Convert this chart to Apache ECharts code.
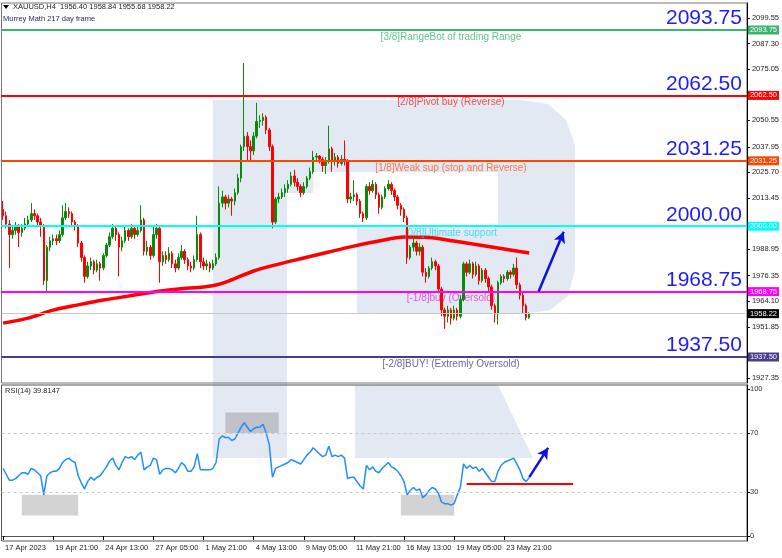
<!DOCTYPE html>
<html>
<head>
<meta charset="utf-8">
<script src="https://cdn.jsdelivr.net/npm/echarts@6/dist/echarts.min.js"></script>
<style>
html,body{margin:0;padding:0;background:#fff;}
#chart{width:782px;height:558px;}
</style>
</head>
<body>
<div id="chart"></div>
<script>
// XAUUSD H4 bars, 17 Apr – 25 May 2023
const tickLabels = ['17 Apr 2023','19 Apr 21:00','24 Apr 13:00','27 Apr 05:00','1 May 21:00','4 May 13:00',
  '9 May 05:00','11 May 21:00','16 May 13:00','19 May 05:00','23 May 21:00'];
const barsPerTick = 16;
const slotCount = 238;

const opens = [2008,2005,2001,1996,1998,2000,1997,1999,2001,2003,
 2006,2005,2002,2000,1974,1990,1993,1994,1993,1996,
 2004,2007,2006,2002,2000,1992,1985,1976,1981,1983,
 1979,1982,1980,1986,1991,1995,1999,1996,1990,1993,
 1998,1995,1999,1996,1998,2003,1988,1990,1986,1996,
 1999,1983,1986,1984,1987,1982,1980,1985,1988,1984,
 1981,1980,1984,1996,1983,1981,1982,1980,1982,1985,
 2011,2014,2011,2013,2012,2016,2023,2038,2043,2038,
 2036,2043,2050,2050.5,2052,2046,2038,2002,2013,2014,
 2016,2018,2020,2024,2021,2019,2016,2019,2023,2026,
 2033,2033.5,2032,2029,2031,2037,2031,2033,2030,2032,
 2031,2013,2014,2015,2012,2006,2004,2019,2017,2020,
 2015,2009,2014,2018,2020,2017,2014,2010,2008,2004,
 1985,1990,1992,1988,1990,1978,1976,1980,1983,1981,
 1970,1960,1957,1960,1956,1960,1957,1965,1982,1978,
 1982,1977,1981,1974,1979,1975,1971,1962,1958,1973,
 1976,1975,1978,1977,1980,1972,1967,1962,1956.40];

const closes = [2005,2001,1996,1998,2000,1997,1999,2001,2003,2006,
 2005,2002,2000,1974,1990,1993,1994,1993,1996,2004,
 2007,2006,2002,2000,1992,1985,1976,1981,1983,1979,
 1982,1980,1986,1991,1995,1999,1996,1990,1993,1998,
 1995,1999,1996,1998,2003,1988,1990,1986,1996,1999,
 1983,1986,1984,1987,1982,1980,1985,1988,1984,1981,
 1980,1984,1996,1983,1981,1982,1980,1982,1985,2011,
 2014,2011,2013,2012,2016,2023,2038,2043,2038,2036,
 2043,2050,2050.5,2052,2046,2038,2002,2013,2014,2016,
 2018,2020,2024,2021,2019,2016,2019,2023,2026,2033,
 2033.5,2032,2029,2031,2037,2031,2033,2030,2032,2031,
 2013,2014,2015,2012,2006,2004,2019,2017,2020,2015,
 2009,2014,2018,2020,2017,2014,2010,2008,2004,1985,
 1990,1992,1988,1990,1978,1976,1980,1983,1981,1970,
 1960,1957,1960,1956,1960,1957,1965,1982,1978,1982,
 1977,1981,1974,1979,1975,1971,1962,1958,1973,1976,
 1975,1978,1977,1980,1972,1967,1962,1956.40,1958.22];

const highs = [2012,2007,2003,2000,2002,2001,2001,2004,2005,2011,
 2008,2006,2004,2001,1991,1995,1996,1996,1998,2010,
 2011,2009,2007,2003,2001,1993,1986,1983,1985,1984,
 1984,1983,1987,1992,1997,2001,2000,1997,1995,2000,
 1999,2001,2000,2000,2010,2004,1993,1991,2000,2001,
 2000,1988,1988,1990,1988,1984,1987,1991,1989,1985,
 1983,1986,2005,1997,1985,1984,1983,1984,1987,2019,
 2017,2015,2015,2014,2018,2025,2039,2078,2045,2041,
 2045,2059,2053,2054,2053,2047,2039,2014,2016,2018,
 2020,2022,2026,2027,2023,2020,2021,2024,2028,2036,
 2035,2034,2033,2033,2048,2038,2035,2034,2034,2041,
 2032,2016,2022,2016,2013,2007,2020,2021,2022,2021,
 2016,2015,2019,2022,2021,2018,2015,2011,2009,2005,
 1991,1994,1993,1992,1991,1980,1981,1985,1984,1982,
 1971,1961,1962,1961,1962,1961,1967,1983,1983,1984,
 1983,1983,1982,1980,1980,1976,1972,1963,1974,1977,
 1977,1979,1979,1982,1985,1973,1968,1963,1958.84];

const lows = [2003,1999,1980,1994,1996,1990,1995,1998,2000,2002,
 2003,2000,1995,1972,1969,1988,1991,1991,1992,1995,
 2003,2004,2000,1998,1990,1983,1973,1975,1979,1977,
 1978,1974,1979,1985,1990,1994,1993,1976,1988,1992,
 1993,1994,1994,1995,1997,1986,1986,1984,1985,1994,
 1973,1981,1982,1983,1980,1978,1979,1984,1982,1979,
 1978,1979,1983,1980,1979,1979,1978,1979,1981,1984,
 2009,2008,2009,2005,2010,2015,2021,2036,2031,2031,
 2034,2042,2047,2048,2044,2036,1999,2001,2011,2013,
 2014,2016,2019,2019,2017,2014,2015,2018,2022,2025,
 2031,2030,2026,2025,2030,2026,2029,2028,2029,2029,
 2011,2011,2012,2010,2004,2002,2003,2015,2016,2013,
 2006,2008,2013,2017,2015,2012,2008,2005,2002,1982,
 1984,1988,1986,1986,1976,1973,1975,1979,1979,1968,
 1957,1951,1954,1953,1955,1955,1956,1964,1976,1977,
 1975,1976,1972,1973,1973,1969,1960,1954,1953,1972,
 1973,1974,1975,1976,1970,1965,1958,1955,1955.68];

// RSI(14)
const rsi = [46,42,38,38,39,41,43,43,42,46,
 45,43,41,28,41,43,44,44,46,50,
 52,53,51,50,41,36,32,37,40,38,
 40,41,44,47,51,53,48,45,50,54,
 53,54,52,55,57,45,47,48,53,52,
 42,45,46,46,45,43,46,50,48,44,
 44,47,56,45,45,45,45,46,50,66,
 68,67,67,65,66,70,74,77,74,71,
 73,74,74,76,70,62,40,46,47,48,
 49,50,52,51,50,49,52,55,57,60,
 58,56,54,55,61,54,55,54,55,53,
 39,40,40,37,34,32,48,45,47,44,
 43,46,48,50,47,46,44,41,37,28,
 31,33,31,32,26,28,31,33,32,29,
 23,22,22,21,22,28,33,49,46,48,
 46,47,44,46,43,40,37,37,44,48,
 50,51,52,53,49,45,39,37,39.8147];

// 217-period moving average, sampled at bar indices
const maIdx = [0,8,16,24,32,40,48,56,64,68,72,80,88,96,104,112,120,128,136,144,152,160,168];
const maVal = [1953.7,1956.1,1959.9,1962.4,1964.7,1966.6,1968.6,1970.0,1971.0,1971.9,1973.8,1978.6,
  1981.9,1984.8,1987.7,1990.5,1992.9,1994.8,1994.6,1992.9,1991.0,1989.1,1987.2];

// Murrey Math levels
const levels = [2093.75, 2062.50, 2031.25, 2000.00, 1968.75, 1937.50];
const levelNames = ['[3/8]RangeBot of trading Range','[2/8]Pivot buy (Reverse)','[1/8]Weak sup (stop and Reverse)',
  '[0/8]Ultimate support','[-1/8]buy (Oversold)','[-2/8]BUY! (Extremly Oversold)'];
const levelColors = ['#3cb371','#ff0000','#ff4500','#00ffff','#ff00ff','#483d8b'];
const levelTextColors = ['#3cb371','#ff2020','#ff5a1e','#20d8ec','#e030e0','#483d8b'];
const levelTextIdx = 143;
const lastPrice = 1958.22;

const priceTicks = [2099.55,2087.30,2075.05,2050.55,2037.95,2025.70,2013.45,1988.95,1976.35,1964.10,1951.85,1927.35];
const rsiTicks = [0,30,70,100];
const rsiLevels = [70,30];

// annotations
const priceArrow = [[171,1968.75],[179,1997.3]];
const rsiArrow = [[168,40],[174,60]];
const rsiSupport = [[148,35.4],[182,35.4]];
const rsiBoxes = [
  {from:[6,28], to:[24,14], color:'#d3d3d3'},
  {from:[71,84], to:[88,70], color:'#bfc2c9'},
  {from:[127,28], to:[144,14], color:'#d3d3d3'}
];

const FONT = '"Liberation Sans", Arial, sans-serif';
const slots = Array.from({length: slotCount}, (_, i) => String(i));
const candles = opens.map((o, i) => [o, closes[i], lows[i], highs[i]]);
const maData = maIdx.map((x, i) => [x, maVal[i]]);
const tickOn = i => i % barsPerTick === 0 && i / barsPerTick < tickLabels.length;

const levelLines = [];
levels.forEach((lv, k) => {
  levelLines.push({
    yAxis: lv,
    lineStyle: {color: levelColors[k], width: 2, type: 'solid'},
    label: {show: true, position: 'end', distance: 1, formatter: lv.toFixed(2),
      backgroundColor: levelColors[k], color: '#fff', fontSize: 7.5, fontFamily: FONT,
      padding: [1, 2, 0, 2]}
  });
  levelLines.push({
    yAxis: lv,
    lineStyle: {color: levelColors[k], width: 2, type: 'solid'},
    label: {show: true, position: 'insideEndTop', distance: [5, 1], formatter: lv.toFixed(2),
      color: '#1c1cff', fontSize: 21, fontFamily: FONT}
  });
});
levelLines.push({
  yAxis: lastPrice,
  lineStyle: {color: '#c8c8c8', width: 1, type: 'solid'},
  label: {show: true, position: 'end', distance: 1, formatter: lastPrice.toFixed(2),
    backgroundColor: '#000', color: '#fff', fontSize: 7.5, fontFamily: FONT, padding: [1, 2, 0, 2]}
});
levelLines.push([
  {coord: priceArrow[0], symbol: 'none', lineStyle: {color: '#1010e0', width: 2.5, type: 'solid'}, label: {show: false}},
  {coord: priceArrow[1], symbol: 'arrow', symbolSize: [9, 11]}
]);

const rsiLines = rsiLevels.map(v => ({
  yAxis: v, lineStyle: {color: '#c8c8c8', width: 1, type: [3, 3]}, label: {show: false}
}));
rsiLines.push([
  {coord: rsiSupport[0], symbol: 'none', lineStyle: {color: '#ff0000', width: 2, type: 'solid'}, label: {show: false}},
  {coord: rsiSupport[1], symbol: 'none'}
]);
rsiLines.push([
  {coord: rsiArrow[0], symbol: 'none', lineStyle: {color: '#1010e0', width: 2.5, type: 'solid'}, label: {show: false}},
  {coord: rsiArrow[1], symbol: 'arrow', symbolSize: [9, 11]}
]);

const wm = '#e3e9f2';
const chart = echarts.init(document.getElementById('chart'), null, {renderer: 'canvas'});
chart.setOption({
  animation: false,
  backgroundColor: '#fff',
  graphic: [
    // background logo
    {type: 'rect', z: -10, silent: true, shape: {x: 213, y: 100, width: 74, height: 358}, style: {fill: wm}},
    {type: 'polygon', z: -10, silent: true, shape: {points: [[287,100],[520,100],[548,104],[566,120],[575,145],[575,270],[568,296],[550,310],[530,313],[357,313],[357,227],[498,227],[498,172],[313,172],[313,193],[287,193]]}, style: {fill: wm}},
    {type: 'polygon', z: -10, silent: true, shape: {points: [[355,385],[498,385],[533,458],[355,458]]}, style: {fill: wm}},
    // header
    {type: 'polygon', shape: {points: [[3,5],[9,5],[6,9]]}, style: {fill: '#000'}},
    {type: 'text', x: 13, y: 7, style: {text: 'XAUUSD,H4  1956.40 1958.84 1955.68 1958.22', font: '7.5px ' + FONT, fill: '#222', verticalAlign: 'middle'}},
    {type: 'text', x: 3, y: 18.5, style: {text: 'Murrey Math 217 day frame', font: '7.5px ' + FONT, fill: '#1c2a5a', verticalAlign: 'middle'}},
    {type: 'text', x: 5, y: 391, style: {text: 'RSI(14) 39.8147', font: '7.5px ' + FONT, fill: '#222', verticalAlign: 'middle'}}
  ],
  grid: [
    {left: 1.5, top: 3, width: 745.5, height: 380, show: true, borderColor: '#777', borderWidth: 1, backgroundColor: 'transparent'},
    {left: 1.5, top: 385, width: 745.5, height: 156, show: true, borderColor: '#555', borderWidth: 1, backgroundColor: 'transparent'}
  ],
  xAxis: [
    {type: 'category', gridIndex: 0, data: slots, boundaryGap: true,
      axisLine: {show: false}, axisTick: {show: false}, axisLabel: {show: false}, splitLine: {show: false}},
    {type: 'category', gridIndex: 1, data: slots, boundaryGap: true,
      axisLine: {show: true, lineStyle: {color: '#555', width: 1}},
      axisTick: {show: true, interval: tickOn, alignWithLabel: true, length: 4, lineStyle: {color: '#000'}},
      axisLabel: {show: true, interval: tickOn, align: 'left', margin: 3, padding: [0, 0, 0, 2],
        color: '#222', fontSize: 7.5, fontFamily: FONT,
        formatter: (v, i) => tickLabels[Math.round(i / barsPerTick)] || ''},
      splitLine: {show: false}}
  ],
  yAxis: [
    {type: 'value', gridIndex: 0, position: 'right', min: 1925.08, max: 2106.65, scale: true,
      axisLine: {show: true, lineStyle: {color: '#000', width: 1}},
      axisTick: {show: true, customValues: priceTicks, length: 3, lineStyle: {color: '#000'}},
      axisLabel: {show: true, customValues: priceTicks, margin: 5, color: '#222', fontSize: 7.5, fontFamily: FONT,
        formatter: v => Number(v).toFixed(2)},
      splitLine: {show: false}},
    {type: 'value', gridIndex: 1, position: 'right', min: -3.4, max: 102.72,
      axisLine: {show: true, lineStyle: {color: '#000', width: 1}},
      axisTick: {show: true, customValues: rsiTicks, length: 3, lineStyle: {color: '#000'}},
      axisLabel: {show: true, customValues: rsiTicks, margin: 3, color: '#333', fontSize: 7.5, fontFamily: FONT},
      splitLine: {show: false}}
  ],
  series: [
    {
      type: 'line', name: 'MA217', xAxisIndex: 0, yAxisIndex: 0, data: maData,
      smooth: 0.3, showSymbol: false, symbol: 'none', z: 1,
      lineStyle: {color: '#ff0000', width: 3.5}
    },
    {
      type: 'candlestick', name: 'XAUUSD', xAxisIndex: 0, yAxisIndex: 0, data: candles,
      barWidth: 2, z: 3,
      itemStyle: {color: '#0a8a0a', color0: '#ff0000', borderColor: '#0a8a0a', borderColor0: '#ff0000', borderWidth: 1},
      markLine: {silent: true, symbol: 'none', precision: 2, data: levelLines, animation: false}
    },
    {
      type: 'scatter', name: 'levelText', xAxisIndex: 0, yAxisIndex: 0, symbolSize: 0, silent: true,
      data: levels.map((lv, k) => ({
        value: [levelTextIdx, lv],
        label: {show: true, position: 'bottom', distance: 2, formatter: levelNames[k],
          color: levelTextColors[k], fontSize: 10, fontFamily: FONT}
      }))
    },
    {
      type: 'line', name: 'RSI', xAxisIndex: 1, yAxisIndex: 1, data: rsi,
      showSymbol: false, symbol: 'none', z: 3,
      lineStyle: {color: '#1e8fff', width: 1.5},
      markLine: {silent: true, symbol: 'none', data: rsiLines, animation: false},
      markArea: {silent: true, data: rsiBoxes.map(b => [
        {coord: b.from, itemStyle: {color: b.color, opacity: 1}},
        {coord: b.to}
      ])}
    }
  ]
});
</script>
</body>
</html>
